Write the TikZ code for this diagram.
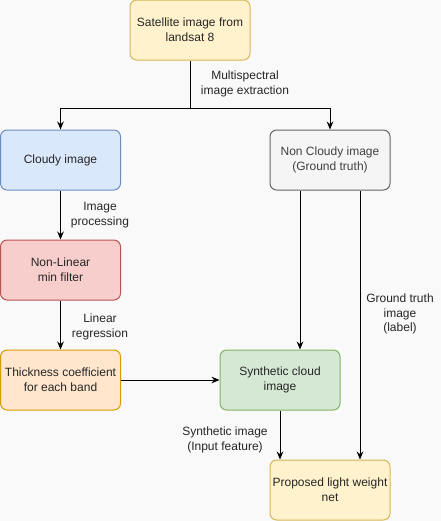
\documentclass[tikz,border=0pt]{standalone}
\usepackage{fontspec}
\setmainfont{Liberation Sans}
\usetikzlibrary{arrows.meta}
\definecolor{bgcol}{HTML}{F9F9F9}
\definecolor{yelfill}{HTML}{FFF2CC}\definecolor{yeldraw}{HTML}{D6B656}
\definecolor{bluefill}{HTML}{DAE8FC}\definecolor{bluedraw}{HTML}{6C8EBF}
\definecolor{grayfill}{HTML}{F5F5F5}\definecolor{graydraw}{HTML}{666666}
\definecolor{redfill}{HTML}{F8CECC}\definecolor{reddraw}{HTML}{B85450}
\definecolor{orgfill}{HTML}{FFE6CC}\definecolor{orgdraw}{HTML}{D79B00}
\definecolor{grnfill}{HTML}{D5E8D4}\definecolor{grndraw}{HTML}{82B366}
\tikzset{
  box/.style={draw, rounded corners=5pt, line width=0.75pt, minimum width=90pt,
    minimum height=45pt, align=center, inner sep=1pt,
    font=\fontsize{9}{11}\selectfont, text=black!85},
  lbl/.style={align=center, font=\fontsize{9}{11}\selectfont, text=black!85},
  arr/.style={-{Stealth[length=6pt,width=5pt]}, line width=0.75pt}
}
\begin{document}
\begin{tikzpicture}[x=0.75pt,y=-0.75pt]
    \fill [bgcol] (0,0) rectangle (441,521);
    \useasboundingbox (0,0) rectangle (441,521);

    % boxes
    \node [box, fill=yelfill, draw=yeldraw] (sat) at (190,30) {Satellite image from\\landsat 8};
    \node [box, fill=bluefill, draw=bluedraw] (cloudy) at (60.5,160) {Cloudy image};
    \node [box, fill=grayfill, draw=graydraw, text=black!75] (noncloudy) at (330,160) {Non Cloudy image\\(Ground truth)};
    \node [box, fill=redfill, draw=reddraw] (minfilter) at (60.5,270) {Non-Linear\\min filter};
    \node [box, fill=orgfill, draw=orgdraw] (thick) at (60.5,380) {Thickness coefficient\\for each band};
    \node [box, fill=grnfill, draw=grndraw] (syn) at (280,380) {Synthetic cloud\\image};
    \node [box, fill=yelfill, draw=yeldraw] (net) at (330,490) {Proposed light weight\\net};

    % connectors
    \coordinate (split) at (190,108);
    \draw [line width=0.75pt] (sat) -- (split);
    \draw [arr] (split) -| (cloudy.north);
    \draw [arr] (split) -| (noncloudy.north);
    \draw [arr] (cloudy) -- (minfilter);
    \draw [arr] (minfilter) -- (thick);
    \draw [arr] (thick) -- (syn);
    \draw [arr] ([xshift=-22.5pt]noncloudy.south) -- ([xshift=-22.5pt]noncloudy.south |- syn.north);
    \draw [arr] ([xshift=22.5pt]noncloudy.south) -- ([xshift=22.5pt]noncloudy.south |- net.north);
    \draw [arr] (syn.south) -- (syn.south |- net.north);

    % labels
    \node [lbl] (lblspec) at (245,84) {Multispectral\\image extraction};
    \node [lbl] (lblproc) at (100,215) {Image\\processing};
    \node [lbl] (lblreg) at (100,327) {Linear\\regression};
    \node [lbl] (lblgt) at (400,314) {Ground truth\\image\\(label)};
    \node [lbl] (lblsyn) at (225,440) {Synthetic image\\(Input feature)};

  \end{tikzpicture}
\end{document}
